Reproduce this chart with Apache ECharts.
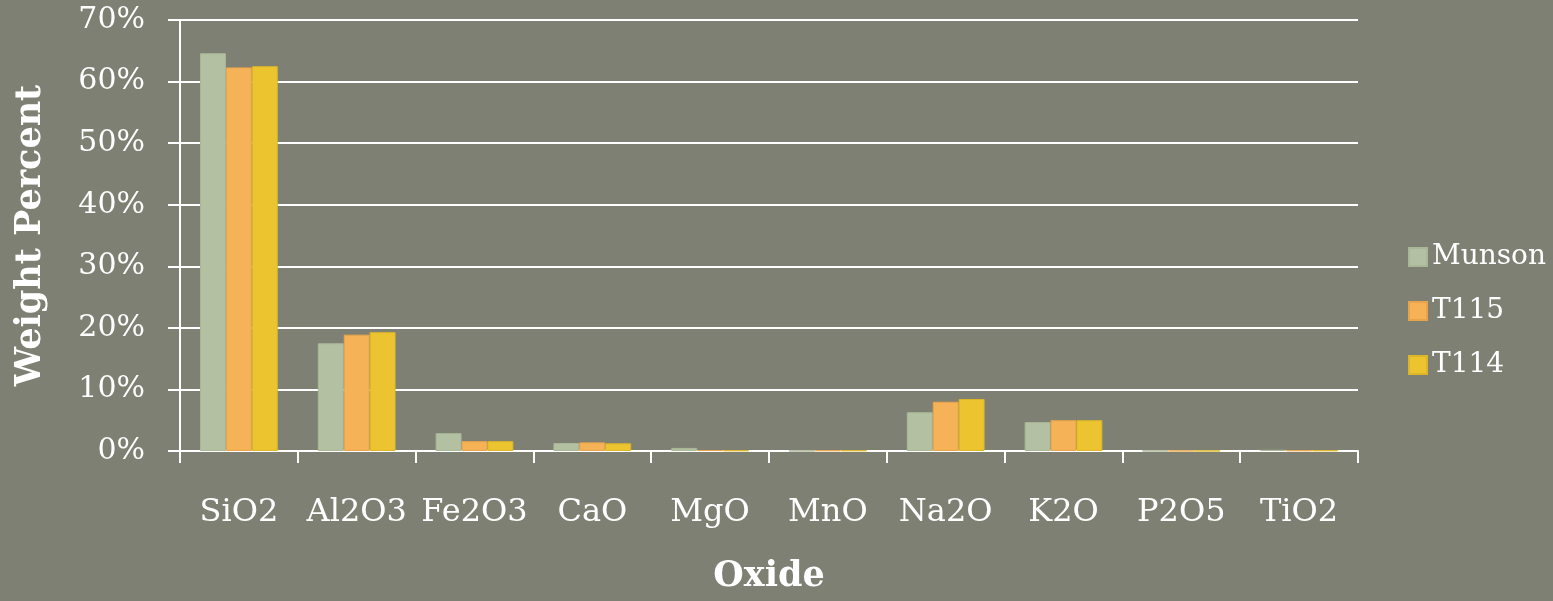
<!DOCTYPE html>
<html>
<head>
<meta charset="utf-8">
<title>Oxide composition</title>
<script src="https://cdn.jsdelivr.net/npm/echarts@6/dist/echarts.min.js"></script>
<style>
  html, body { margin: 0; padding: 0; background: #7e8073; }
  #chart { width: 1553px; height: 601px; }
</style>
</head>
<body>
<div id="chart"></div>
<script>
// Oxide categories along the horizontal axis
const oxides = ['SiO2', 'Al2O3', 'Fe2O3', 'CaO', 'MgO', 'MnO', 'Na2O', 'K2O', 'P2O5', 'TiO2'];

// Weight percent of each oxide per sample
const munson = [64.6, 17.5, 2.9, 1.3, 0.5, 0.03, 6.3, 4.7, 0.03, 0.2];
const t115   = [62.3, 18.9, 1.6, 1.4, 0.15, 0.1, 8.0, 5.0, 0.03, 0.1];
const t114   = [62.5, 19.3, 1.6, 1.25, 0.1, 0.1, 8.45, 5.0, 0.03, 0.1];

// Value axis ticks (percent)
const yTicks = [0, 10, 20, 30, 40, 50, 60, 70];

const seriesNames = ['Munson', 'T115', 'T114'];
const seriesData = [munson, t115, t114];
const colors = ['#b3c1a2', '#f5b256', '#ebc430'];
const borders = ['#a9b697', '#e7a44a', '#dcb628'];

const serif = 'DejaVu Serif';

const chart = echarts.init(document.getElementById('chart'), null, { renderer: 'canvas' });

chart.setOption({
  backgroundColor: '#7e8073',
  animation: false,
  grid: { left: 180, right: 195, top: 20, bottom: 150, containLabel: false, outerBoundsMode: 'none' },
  legend: {
    orient: 'vertical',
    left: 1403,
    top: 238,
    itemWidth: 18,
    itemHeight: 18,
    itemGap: 26,
    icon: 'rect',
    data: seriesNames,
    textStyle: { color: '#ffffff', fontFamily: serif, fontSize: 28, lineHeight: 19 }
  },
  xAxis: {
    type: 'category',
    data: oxides,
    name: 'Oxide',
    nameLocation: 'middle',
    nameGap: 108,
    nameTextStyle: { color: '#ffffff', fontFamily: serif, fontSize: 35, fontWeight: 'bold' },
    axisLine: { lineStyle: { color: '#ffffff', width: 2 } },
    axisTick: { show: true, length: 12, lineStyle: { color: '#ffffff', width: 2 } },
    axisLabel: { color: '#ffffff', fontFamily: serif, fontSize: 32, margin: 46, interval: 0, hideOverlap: false }
  },
  yAxis: {
    type: 'value',
    min: yTicks[0],
    max: yTicks[yTicks.length - 1],
    interval: yTicks[1] - yTicks[0],
    name: 'Weight Percent',
    nameLocation: 'middle',
    nameGap: 132,
    nameRotate: 90,
    nameTextStyle: { color: '#ffffff', fontFamily: serif, fontSize: 35, fontWeight: 'bold' },
    axisLine: { show: true, lineStyle: { color: '#ffffff', width: 2 } },
    axisTick: { show: true, length: 12, lineStyle: { color: '#ffffff', width: 2 } },
    axisLabel: { color: '#ffffff', fontFamily: serif, fontSize: 30, margin: 35, formatter: '{value}%' },
    splitLine: { show: true, lineStyle: { color: '#ffffff', width: 2 } }
  },
  series: seriesNames.map((name, i) => ({
    name: name,
    type: 'bar',
    data: seriesData[i],
    barGap: '0%',
    barCategoryGap: '34%',
    itemStyle: { color: colors[i], borderColor: borders[i], borderWidth: 1 }
  }))
});
</script>
</body>
</html>
